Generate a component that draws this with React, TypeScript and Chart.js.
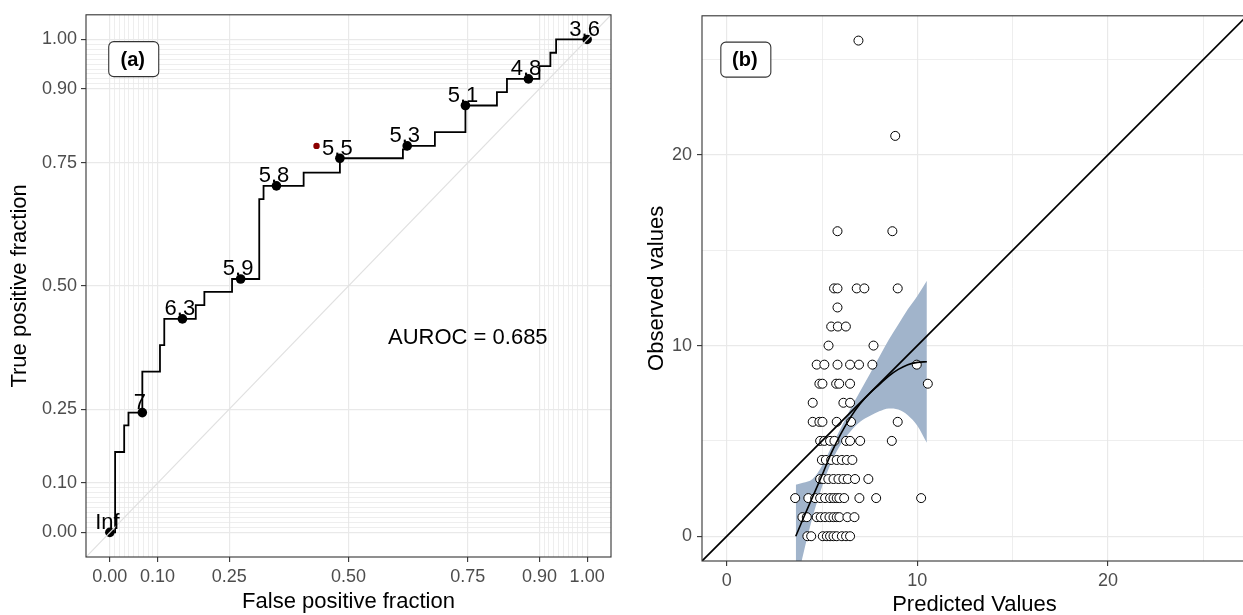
import React, { useEffect, useRef } from 'react';
import { Chart, registerables } from 'chart.js';

Chart.register(...registerables);

const FONT = "'Liberation Sans', Arial, Helvetica, sans-serif";

// ---------- Panel (a): ROC curve ----------
const rocFpr = [0, 0.011, 0.030, 0.039, 0.068, 0.105, 0.114, 0.180, 0.198, 0.256, 0.313, 0.322, 0.406, 0.482, 0.614, 0.623, 0.681, 0.745, 0.811, 0.832, 0.900, 0.923, 0.935, 1.0];
const rocTpr = [0, 0.163, 0.217, 0.243, 0.326, 0.380, 0.433, 0.461, 0.488, 0.514, 0.676, 0.703, 0.730, 0.759, 0.777, 0.784, 0.812, 0.866, 0.893, 0.920, 0.946, 0.973, 1.0, 1.0];
const cutoffLabels = ['Inf', '7', '6.3', '5.9', '5.8', '5.5', '5.3', '5.1', '4.8', '3.6'];
const cutoffFpr = [0, 0.068, 0.152, 0.274, 0.349, 0.482, 0.623, 0.745, 0.877, 1.0];
const cutoffTpr = [0, 0.243, 0.433, 0.514, 0.703, 0.759, 0.784, 0.866, 0.920, 1.0];
const optimalFpr = [0.433];
const optimalTpr = [0.784];
const rocLimits = [-0.05, 1.05];
const rocMajorBreaks = [0, 0.1, 0.25, 0.5, 0.75, 0.9, 1];
const rocMinorBreaks = [0.01, 0.02, 0.03, 0.04, 0.05, 0.06, 0.07, 0.08, 0.09, 0.91, 0.92, 0.93, 0.94, 0.95, 0.96, 0.97, 0.98, 0.99];
const aurocText = 'AUROC = 0.685';
const aurocPos = [0.75, 0.383];
const panelALabelPos = [0.05, 0.96];

// ---------- Panel (b): calibration ----------
const predicted = [
  6.91,
  8.84,
  5.81, 8.69,
  5.63, 5.81, 6.82, 7.22, 8.97,
  5.81,
  5.48, 5.83, 6.25,
  5.34, 7.7,
  4.72, 5.12, 5.81, 6.47, 6.94, 7.64, 9.97,
  4.86, 5.02, 5.74, 5.9, 6.47, 10.55,
  4.51, 6.12, 6.47,
  4.51, 4.86, 5.02, 5.77, 6.52, 8.97,
  4.9, 5.12, 5.42, 5.65, 6.26, 6.47, 7.0, 8.66,
  4.99, 5.2, 5.48, 5.77, 6.04, 6.3, 6.59,
  4.9, 5.07, 5.33, 5.6, 5.86, 6.12, 6.35, 6.73, 7.43,
  3.59, 4.28, 4.64, 4.9, 5.16, 5.42, 5.6, 5.77, 5.91, 6.16, 6.96, 7.84, 10.2,
  3.97, 4.2, 4.72, 4.93, 5.16, 5.39, 5.6, 5.77, 5.91, 6.33, 6.7,
  4.23, 4.43, 5.04, 5.25, 5.42, 5.6, 5.77, 6.04, 6.26, 6.47,
];
const observed = [
  26,
  21,
  16, 16,
  13, 13, 13, 13, 13,
  12,
  11, 11, 11,
  10, 10,
  9, 9, 9, 9, 9, 9, 9,
  8, 8, 8, 8, 8, 8,
  7, 7, 7,
  6, 6, 6, 6, 6, 6,
  5, 5, 5, 5, 5, 5, 5, 5,
  4, 4, 4, 4, 4, 4, 4,
  3, 3, 3, 3, 3, 3, 3, 3, 3,
  2, 2, 2, 2, 2, 2, 2, 2, 2, 2, 2, 2, 2,
  1, 1, 1, 1, 1, 1, 1, 1, 1, 1, 1,
  0, 0, 0, 0, 0, 0, 0, 0, 0, 0,
];
const smoothX = [3.62, 4.0, 4.5, 5.0, 5.5, 6.0, 6.5, 7.0, 7.5, 8.0, 8.5, 9.0, 9.5, 10.0, 10.5];
const smoothFit = [0, 0.9, 2.05, 3.2, 4.4, 5.4, 6.25, 6.95, 7.5, 7.95, 8.4, 8.75, 9.0, 9.12, 9.15];
const smoothUpper = [2.7, 2.8, 3.0, 3.7, 4.7, 5.7, 6.7, 7.6, 8.5, 9.4, 10.3, 11.1, 11.9, 12.6, 13.4];
const smoothLower = [-2.7, -1.0, 1.0, 2.6, 3.9, 4.85, 5.5, 6.0, 6.3, 6.55, 6.7, 6.65, 6.35, 5.8, 4.9];
const calLimits = [-1.3, 27.3];
const calMajorBreaks = [0, 10, 20];
const calMinorBreaks = [5, 15, 25];
const panelBLabelPos = [1, 25];

// ---------- helpers ----------
const near = (list: number[], v: number) => list.some((m) => Math.abs(m - v) < 1e-9);

const GRID = '#e9e9e9';
const GRID_MINOR = '#e6e6e6';
const BORDER = '#333333';
const TICKTXT = '#4d4d4d';

function makeScale(
  majors: number[],
  minors: number[],
  limits: number[],
  fmt: (v: number) => string,
  size: number,
  isX: boolean,
  padding: number
) {
  const all = [...majors, ...minors].sort((a, b) => a - b);
  return {
    type: 'linear' as const,
    min: limits[0],
    max: limits[1],
    afterBuildTicks: (s: any) => {
      s.ticks = all.map((v) => ({ value: v }));
    },
    afterFit: (s: any) => {
      if (isX) s.height = size;
      else s.width = size;
    },
    border: { display: false },
    grid: {
      color: (c: any) => (c.tick && near(majors, c.tick.value) ? GRID : GRID_MINOR),
      lineWidth: (c: any) => (c.tick && near(majors, c.tick.value) ? 1.2 : 0.7),
      tickColor: (c: any) => (c.tick && near(majors, c.tick.value) ? BORDER : 'rgba(0,0,0,0)'),
      tickLength: 5,
      tickWidth: 1.1,
      drawTicks: true,
    },
    ticks: {
      autoSkip: false,
      maxRotation: 0,
      minRotation: 0,
      padding,
      color: TICKTXT,
      font: { family: FONT, size: 18 },
      callback: (v: any) => (near(majors, Number(v)) ? fmt(Number(v)) : ''),
    },
  };
}

function drawLabelBox(ctx: CanvasRenderingContext2D, text: string, cx: number, cy: number) {
  const w = 50;
  const h = 35;
  const r = 5;
  const x = cx - w / 2;
  const y = cy - h / 2;
  ctx.beginPath();
  ctx.moveTo(x + r, y);
  ctx.lineTo(x + w - r, y);
  ctx.arcTo(x + w, y, x + w, y + r, r);
  ctx.lineTo(x + w, y + h - r);
  ctx.arcTo(x + w, y + h, x + w - r, y + h, r);
  ctx.lineTo(x + r, y + h);
  ctx.arcTo(x, y + h, x, y + h - r, r);
  ctx.lineTo(x, y + r);
  ctx.arcTo(x, y, x + r, y, r);
  ctx.closePath();
  ctx.fillStyle = '#ffffff';
  ctx.fill();
  ctx.strokeStyle = BORDER;
  ctx.lineWidth = 1.1;
  ctx.stroke();
  ctx.fillStyle = '#000000';
  ctx.font = `bold 20px ${FONT}`;
  ctx.textAlign = 'center';
  ctx.textBaseline = 'middle';
  ctx.fillText(text, cx - 1, cy + 1);
}

function drawBorder(chart: any) {
  const { ctx, chartArea } = chart;
  ctx.save();
  ctx.strokeStyle = BORDER;
  ctx.lineWidth = 1.1;
  ctx.strokeRect(chartArea.left, chartArea.top, chartArea.right - chartArea.left, chartArea.bottom - chartArea.top);
  ctx.restore();
}

function drawAxisTitles(chart: any, xTitle: string, yTitle: string, xBase: number, yBase: number) {
  const { ctx, chartArea } = chart;
  ctx.save();
  ctx.fillStyle = '#000000';
  ctx.font = `22px ${FONT}`;
  ctx.textAlign = 'center';
  ctx.textBaseline = 'alphabetic';
  ctx.fillText(xTitle, (chartArea.left + chartArea.right) / 2, xBase);
  ctx.translate(yBase, (chartArea.top + chartArea.bottom) / 2);
  ctx.rotate(-Math.PI / 2);
  ctx.fillText(yTitle, 0, 0);
  ctx.restore();
}

const panelAPlugin = {
  id: 'panelA',
  afterDatasetsDraw(chart: any) {
    const { ctx, scales } = chart;
    const xs = scales.x;
    const ys = scales.y;
    ctx.save();
    ctx.fillStyle = '#000000';
    ctx.font = `22px ${FONT}`;
    ctx.textAlign = 'center';
    ctx.textBaseline = 'alphabetic';
    cutoffLabels.forEach((lab, i) => {
      const px = xs.getPixelForValue(cutoffFpr[i]);
      const py = ys.getPixelForValue(cutoffTpr[i]);
      ctx.fillText(lab, px - 2.5, py - 3.5);
    });
    ctx.fillText(aurocText, xs.getPixelForValue(aurocPos[0]), ys.getPixelForValue(aurocPos[1]));
    drawLabelBox(ctx, '(a)', xs.getPixelForValue(panelALabelPos[0]), ys.getPixelForValue(panelALabelPos[1]));
    ctx.restore();
    drawBorder(chart);
  },
  afterDraw(chart: any) {
    drawAxisTitles(chart, 'False positive fraction', 'True positive fraction', 607.5, 26);
  },
};

const panelBPlugin = {
  id: 'panelB',
  afterDatasetsDraw(chart: any) {
    const { ctx, scales } = chart;
    ctx.save();
    drawLabelBox(ctx, '(b)', scales.x.getPixelForValue(panelBLabelPos[0]), scales.y.getPixelForValue(panelBLabelPos[1]));
    ctx.restore();
    drawBorder(chart);
  },
  afterDraw(chart: any) {
    drawAxisTitles(chart, 'Predicted Values', 'Observed values', 611, 43);
  },
};

export default function App() {
  const refA = useRef<HTMLCanvasElement>(null);
  const refB = useRef<HTMLCanvasElement>(null);

  useEffect(() => {
    const rocPoints = rocFpr.map((x, i) => ({ x, y: rocTpr[i] }));
    const cutoffPoints = cutoffFpr.map((x, i) => ({ x, y: cutoffTpr[i] }));
    const optimalPoints = optimalFpr.map((x, i) => ({ x, y: optimalTpr[i] }));
    const diag = rocLimits.map((v) => ({ x: v, y: v }));

    const chartA = new Chart(refA.current as HTMLCanvasElement, {
      type: 'scatter',
      data: {
        datasets: [
          { data: diag, showLine: true, borderColor: '#e0e0e0', borderWidth: 1.2, pointRadius: 0, order: 0 } as any,
          { data: cutoffPoints, pointRadius: 4.8, pointBackgroundColor: '#000', pointBorderWidth: 0, order: 1 } as any,
          { data: optimalPoints, pointRadius: 3.2, pointBackgroundColor: '#8b0000', pointBorderWidth: 0, order: 2 } as any,
          { data: rocPoints, showLine: true, stepped: 'before', borderColor: '#000', borderWidth: 1.8, pointRadius: 0, order: 3 } as any,
        ],
      },
      options: {
        responsive: false,
        animation: false,
        devicePixelRatio: 1,
        events: [],
        layout: { padding: { top: 10, right: 9, left: 0, bottom: 0 } },
        plugins: { legend: { display: false }, tooltip: { enabled: false } },
        scales: {
          x: makeScale(rocMajorBreaks, rocMinorBreaks, rocLimits, (v) => v.toFixed(2), 58, true, 4),
          y: makeScale(rocMajorBreaks, rocMinorBreaks, rocLimits, (v) => v.toFixed(2), 86, false, 4),
        } as any,
      },
      plugins: [panelAPlugin],
    });

    const pts = predicted.map((x, i) => ({ x, y: observed[i] }));
    const fit = smoothX.map((x, i) => ({ x, y: smoothFit[i] }));
    const upper = smoothX.map((x, i) => ({ x, y: smoothUpper[i] }));
    const lower = smoothX.map((x, i) => ({ x, y: smoothLower[i] }));
    const identity = calLimits.map((v) => ({ x: v, y: v }));

    const chartB = new Chart(refB.current as HTMLCanvasElement, {
      type: 'scatter',
      data: {
        datasets: [
          { data: upper, showLine: true, fill: '+1', backgroundColor: '#a1b4cb', borderWidth: 0, pointRadius: 0, cubicInterpolationMode: 'monotone', order: 5 } as any,
          { data: lower, showLine: true, fill: false, borderWidth: 0, borderColor: 'rgba(0,0,0,0)', pointRadius: 0, cubicInterpolationMode: 'monotone', order: 4 } as any,
          { data: pts, pointRadius: 4.5, pointBackgroundColor: '#ffffff', pointBorderColor: '#000000', pointBorderWidth: 1, order: 3 } as any,
          { data: fit, showLine: true, borderColor: '#000', borderWidth: 1.6, pointRadius: 0, cubicInterpolationMode: 'monotone', order: 2 } as any,
          { data: identity, showLine: true, borderColor: '#000', borderWidth: 1.8, pointRadius: 0, order: 1 } as any,
        ],
      },
      options: {
        responsive: false,
        animation: false,
        devicePixelRatio: 1,
        events: [],
        layout: { padding: { top: 10, right: 13, left: 0, bottom: 0 } },
        plugins: { legend: { display: false }, tooltip: { enabled: false } },
        scales: {
          x: makeScale(calMajorBreaks, calMinorBreaks, calLimits, (v) => String(v), 54, true, 4),
          y: makeScale(calMajorBreaks, calMinorBreaks, calLimits, (v) => String(v), 82, false, 5),
        } as any,
      },
      plugins: [panelBPlugin],
    });

    return () => {
      chartA.destroy();
      chartB.destroy();
    };
  }, []);

  return (
    <div style={{ position: 'fixed', left: 0, top: 0, width: 1243, height: 615, overflow: 'hidden', background: '#ffffff' }}>
      <canvas ref={refA} width={620} height={615} style={{ position: 'absolute', left: 0, top: 0, width: 620, height: 615 }} />
      <canvas ref={refB} width={640} height={615} style={{ position: 'absolute', left: 620, top: 0, width: 640, height: 615 }} />
    </div>
  );
}
